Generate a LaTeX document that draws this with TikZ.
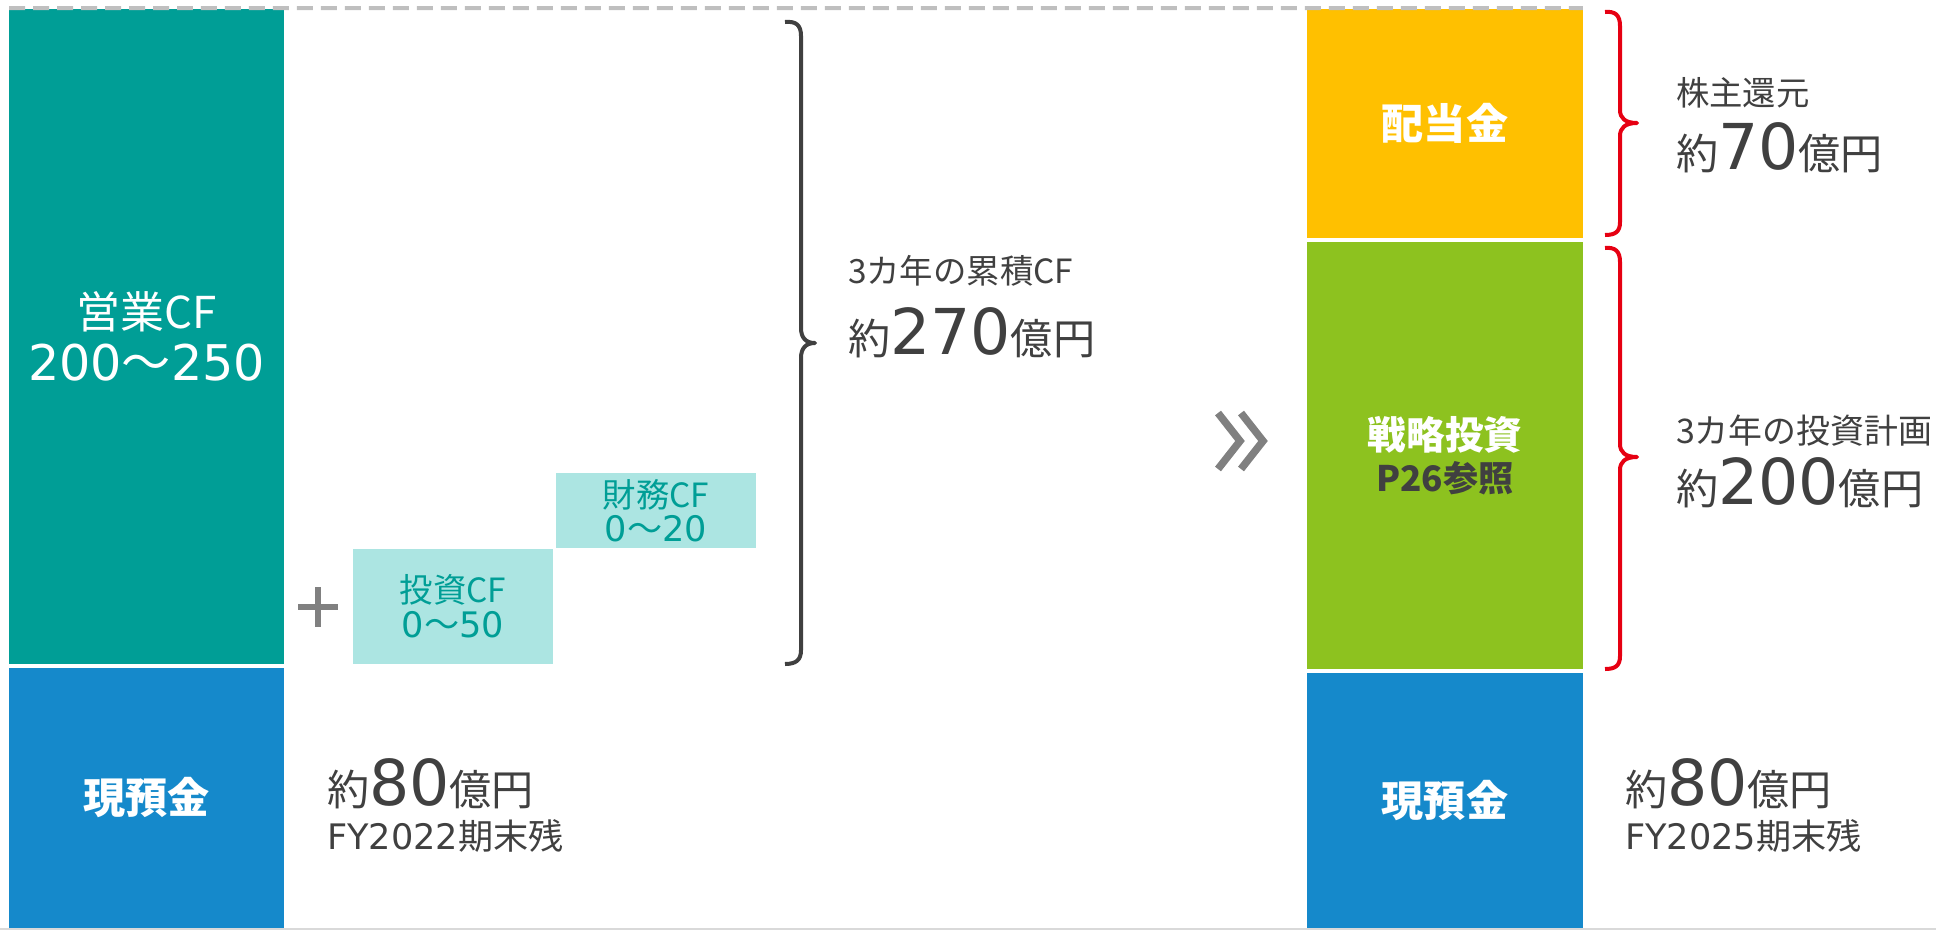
\documentclass[tikz,border=0pt]{standalone}
\usepackage{fontspec}
\setmainfont{Noto Sans CJK JP}
\newfontfamily\lat{DejaVu Sans}
\definecolor{cteal}{HTML}{009E96}
\definecolor{cblue}{HTML}{1589CB}
\definecolor{ccyan}{HTML}{ACE5E2}
\definecolor{cyellow}{HTML}{FFC000}
\definecolor{cgreen}{HTML}{8DC21F}
\definecolor{cred}{HTML}{E60012}
\definecolor{ctext}{HTML}{404040}
\definecolor{cgray}{HTML}{808080}
\definecolor{cdash}{HTML}{BFBFBF}
\newcommand{\fs}[1]{\fontsize{#1}{#1}\selectfont}
\begin{document}
\begin{tikzpicture}[x=0.02cm,y=-0.02cm,
  box/.style={rectangle, inner sep=0pt, outer sep=0pt, align=center},
  lbl/.style={inner sep=0pt, outer sep=0pt, anchor=base west, text=ctext},
  bracedark/.style={draw=ctext, line width=0.08cm, line join=round},
  bracered/.style={draw=cred, line width=0.08cm, line join=round},
  chev/.style={draw=cgray, line width=0.15cm},
  dashline/.style={draw=cdash, line width=0.08cm, dash pattern=on 0.32cm off 0.16cm}]
\useasboundingbox (0,0) rectangle (1936,930);

% left column
\node[box, fill=cteal, minimum width=5.5cm, minimum height=13.1cm, text=white] (op) at (146.5,336.5)
  {\fs{25}営業CF\\[0.2cm]\fs{28}{\lat 200}～{\lat 250}};
\node[box, fill=cblue, minimum width=5.5cm, minimum height=5.2cm, text=white] (cashL) at (146.5,798)
  {\fs{24}\bfseries 現預金};

% cyan boxes
\node[box, fill=ccyan, minimum width=4cm, minimum height=2.3cm, text=cteal] (inv) at (453,606.5)
  {\fs{19}投資CF\\[0.08cm]\fs{20}{\lat 0}～{\lat 50}};
\node[box, fill=ccyan, minimum width=4cm, minimum height=1.5cm, text=cteal] (fin) at (656,510.5)
  {\fs{19}財務CF\\[0.08cm]\fs{20}{\lat 0}～{\lat 20}};

% plus
\coordinate (plusc) at (318,607);
\draw[draw=cgray, line width=0.11cm] ([xshift=-0.4cm]plusc) -- ([xshift=0.4cm]plusc);
\draw[draw=cgray, line width=0.11cm] ([yshift=0.4cm]plusc) -- ([yshift=-0.4cm]plusc);

% dark bracket
\draw[bracedark] (785,22) .. controls (796,21) and (801,25) .. (801,36)
  -- (801,328) .. controls (801,338) and (806,343) .. (815,343)
  .. controls (806,343) and (801,348) .. (801,358)
  -- (801,650) .. controls (801,660) and (796,664) .. (785,664);

\node[lbl] (cumt) at (848,283) {\fs{19}3カ年の累積CF};
\node[lbl] (cumv) at (848,354) {\fs{24}約\fs{36}{\lat 270}\fs{24}億円};

% right column
\node[box, fill=cyellow, minimum width=5.52cm, minimum height=4.58cm, text=white] (div) at (1445,123.5)
  {\fs{24}\bfseries 配当金};
\node[box, fill=cgreen, minimum width=5.52cm, minimum height=8.54cm, text=white] (strat) at (1445,455.5)
  {\fs{22}\bfseries 戦略投資\\[0.12cm]\fs{20}\bfseries\color{ctext}P26参照};
\node[box, fill=cblue, minimum width=5.52cm, minimum height=5.1cm, text=white] (cashR) at (1445,800.5)
  {\fs{24}\bfseries 現預金};

% dashed top line
\draw[dashline] ([yshift=0.02cm]op.north west) -- ([yshift=0.02cm]div.north east);

% chevrons
\draw[chev] (1218,413) -- (1240,441) -- (1218,469);
\draw[chev] (1241,413) -- (1263,441) -- (1241,469);

% red braces
\draw[bracered] (1605,12) .. controls (1615,11) and (1620,15) .. (1620,26)
  -- (1620,110) .. controls (1620,118) and (1625,123) .. (1637,123)
  .. controls (1625,123) and (1620,128) .. (1620,136)
  -- (1620,222) .. controls (1620,232) and (1615,235) .. (1605,235);
\draw[bracered] (1605,248) .. controls (1615,247) and (1620,251) .. (1620,262)
  -- (1620,444) .. controls (1620,452) and (1625,457) .. (1637,457)
  .. controls (1625,457) and (1620,462) .. (1620,470)
  -- (1620,656) .. controls (1620,666) and (1615,669) .. (1605,669);

\node[lbl] (shr) at (1676,105) {\fs{19}株主還元};
\node[lbl] (shrv) at (1676,169) {\fs{24}約\fs{36}{\lat 70}\fs{24}億円};
\node[lbl] (plan) at (1676,443) {\fs{19.3}3カ年の投資計画};
\node[lbl] (planv) at (1676,504) {\fs{24}約\fs{36}{\lat 200}\fs{24}億円};

% cash labels
\node[lbl] (cLv) at (327,805) {\fs{24}約\fs{36}{\lat 80}\fs{24}億円};
\node[lbl] (cLt) at (327,849) {\fs{20}{\lat FY2022}期末残};
\node[lbl] (cRv) at (1625,805) {\fs{24}約\fs{36}{\lat 80}\fs{24}億円};
\node[lbl] (cRt) at (1625,849) {\fs{20}{\lat FY2025}期末残};

% bottom line
\draw[draw=cdash!60, line width=0.03cm] (0,929) -- (1936,929);
\end{tikzpicture}
\end{document}
